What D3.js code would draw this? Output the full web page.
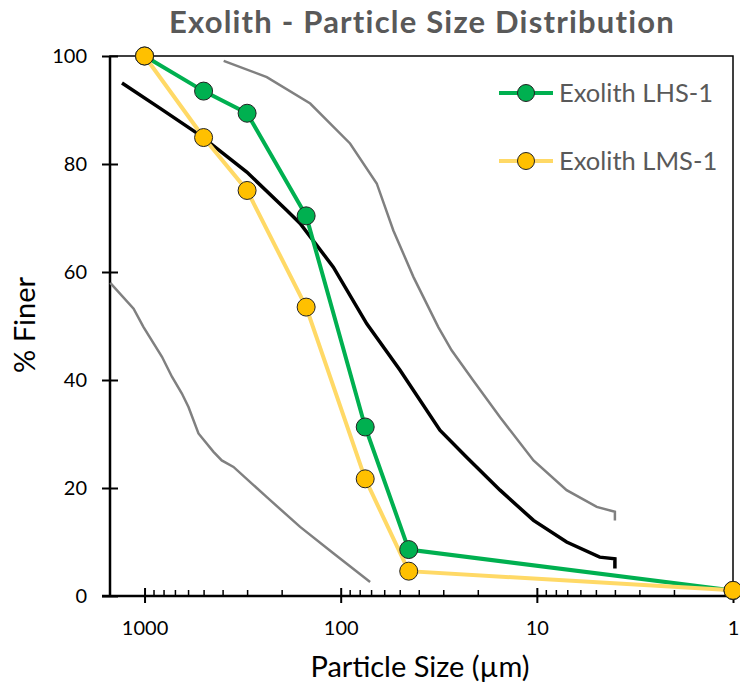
<!DOCTYPE html>
<html>
<head>
<meta charset="utf-8">
<script src="https://cdn.jsdelivr.net/npm/d3@7"></script>
<style>
  body { margin: 0; background: #fff; }
  svg text { font-family: Lato, "Open Sans", sans-serif; }
</style>
</head>
<body>
<div id="chart"></div>
<script>
// Sieve data for the two simulants (size in µm, % finer)
const sieveSizes = [1000, 500, 300, 150, 75, 45, 1];
const lhsFiner = [100, 93.5, 89.4, 70.4, 31.3, 8.6, 1.0];
const lmsFiner = [100, 84.9, 75.1, 53.5, 21.7, 4.6, 1.05];

// Measured reference curve (black) and its upper/lower envelope (gray)
const refSizes = [1303, 832, 520, 301, 188, 161, 109, 73.6, 49.8, 31.2, 22.8, 15.4, 10.4, 7.05, 4.78, 4.0, 4.0];
const refFiner = [95.0, 90.3, 85.3, 78.5, 71.4, 69.0, 60.9, 50.4, 41.8, 30.7, 25.7, 19.6, 14.0, 10.0, 7.2, 6.9, 5.1];

const upperSizes = [395, 238, 143, 89.6, 65.5, 53.9, 42.6, 31.8, 27.2, 21.1, 15.4, 10.4, 7.05, 4.95, 4.0, 4.0];
const upperFiner = [99.1, 96.1, 91.2, 83.8, 76.4, 67.7, 59.1, 49.8, 45.5, 39.9, 33.1, 25.1, 19.6, 16.5, 15.6, 14.0];

const lowerSizes = [1496, 1137, 1012, 815, 725, 645, 597, 531, 445, 404, 352, 238, 161, 109, 70.8];
const lowerFiner = [58.0, 53.2, 49.8, 44.3, 40.6, 37.5, 35.0, 30.1, 26.7, 25.1, 23.9, 18.3, 12.8, 7.9, 2.6];

const xMajorTicks = [1000, 100, 10, 1];
const xMinorTicks = [900, 800, 700, 600, 500, 400, 300, 200,
                     90, 80, 70, 60, 50, 40, 30, 20,
                     9, 8, 7, 6, 5, 4, 3, 2];
const yTicks = [0, 20, 40, 60, 80, 100];

const seriesNames = ["Exolith LHS-1", "Exolith LMS-1"];

const W = 740, H = 687;
const margin = { top: 56, right: 7, bottom: 91, left: 110 };
const width = W - margin.left - margin.right;
const height = H - margin.top - margin.bottom;

const svg = d3.select("#chart").append("svg")
    .attr("width", W)
    .attr("height", H);

const g = svg.append("g").attr("transform", `translate(${margin.left},${margin.top})`);

const x = d3.scaleLog().domain([1500, 1]).range([0, width]);
const y = d3.scaleLinear().domain([0, 100]).range([height, 0]);

// plot frame (top and right edges are thinner than the axes)
g.append("rect")
    .attr("width", width)
    .attr("height", height)
    .attr("fill", "none")
    .attr("stroke", "#000")
    .attr("stroke-width", 1.5);

// minor x ticks (inside only)
g.append("g")
    .attr("transform", `translate(0,${height})`)
    .call(d3.axisBottom(x).tickValues(xMinorTicks).tickSize(-6).tickFormat(""))
    .call(a => a.select(".domain").remove())
    .selectAll("line").attr("stroke-width", 1.5);

// major x axis
const xAxis = g.append("g")
    .attr("transform", `translate(0,${height})`)
    .call(d3.axisBottom(x).tickValues(xMajorTicks).tickSize(6).tickFormat(d3.format("d")));
xAxis.select(".domain").remove();
xAxis.selectAll(".tick line").attr("y1", -8).attr("y2", 7).attr("stroke-width", 2);
xAxis.selectAll(".tick text")
    .attr("y", 39)
    .attr("dy", 0)
    .attr("font-size", 20)
    .attr("fill", "#000");
g.append("line")
    .attr("x1", -8).attr("x2", width)
    .attr("y1", height).attr("y2", height)
    .attr("stroke", "#000").attr("stroke-width", 2.5);

// y axis
const yAxis = g.append("g")
    .call(d3.axisLeft(y).tickValues(yTicks).tickSize(8));
yAxis.select(".domain").remove();
yAxis.selectAll(".tick line").attr("x2", 8).attr("x1", -8).attr("stroke-width", 2);
yAxis.selectAll(".tick text")
    .attr("x", -23)
    .attr("font-size", 20)
    .attr("fill", "#000");
g.append("line")
    .attr("x1", 0).attr("x2", 0)
    .attr("y1", 0).attr("y2", height)
    .attr("stroke", "#000").attr("stroke-width", 2.5);

const line = d3.line()
    .x(d => x(d[0]))
    .y(d => y(d[1]));

const zip = (a, b) => a.map((v, i) => [v, b[i]]);

// envelope + reference curve
[[lowerSizes, lowerFiner], [upperSizes, upperFiner]].forEach(([s, f]) => {
    g.append("path")
        .datum(zip(s, f))
        .attr("d", line)
        .attr("fill", "none")
        .attr("stroke", "#808080")
        .attr("stroke-width", 2.5);
});
g.append("path")
    .datum(zip(refSizes, refFiner))
    .attr("d", line)
    .attr("fill", "none")
    .attr("stroke", "#000")
    .attr("stroke-width", 3.5);

// sieve series
const series = [
    { name: seriesNames[0], data: zip(sieveSizes, lhsFiner), line: "#00B050", fill: "#00B050" },
    { name: seriesNames[1], data: zip(sieveSizes, lmsFiner), line: "#FFD966", fill: "#FFC000" }
];

series.forEach(s => {
    g.append("path")
        .datum(s.data)
        .attr("d", line)
        .attr("fill", "none")
        .attr("stroke", s.line)
        .attr("stroke-width", 4);
});
series.forEach(s => {
    g.append("g").selectAll("circle")
        .data(s.data)
        .join("circle")
        .attr("cx", d => x(d[0]))
        .attr("cy", d => y(d[1]))
        .attr("r", 9)
        .attr("fill", s.fill)
        .attr("stroke", "#222")
        .attr("stroke-width", 1);
});

// legend
const legend = svg.append("g").attr("transform", "translate(499,93)");
series.forEach((s, i) => {
    const row = legend.append("g").attr("transform", `translate(0,${i * 68})`);
    row.append("line")
        .attr("x1", 0).attr("x2", 54)
        .attr("stroke", s.line).attr("stroke-width", 4);
    row.append("circle")
        .attr("cx", 27).attr("r", 8.5)
        .attr("fill", s.fill).attr("stroke", "#222").attr("stroke-width", 1);
    row.append("text")
        .attr("x", 60).attr("y", 9)
        .attr("font-size", 25.5)
        .attr("fill", "#595959")
        .text(s.name);
});

// title and axis labels
svg.append("text")
    .attr("x", 422).attr("y", 33)
    .attr("text-anchor", "middle")
    .attr("font-size", 31)
    .attr("letter-spacing", 1.2)
    .attr("font-weight", "bold")
    .attr("fill", "#595959")
    .text("Exolith - Particle Size Distribution");

svg.append("text")
    .attr("x", 420).attr("y", 677)
    .attr("text-anchor", "middle")
    .attr("font-size", 29)
    .attr("fill", "#000")
    .text("Particle Size (µm)");

svg.append("text")
    .attr("transform", "translate(35,325) rotate(-90)")
    .attr("text-anchor", "middle")
    .attr("font-size", 29)
    .attr("fill", "#000")
    .text("% Finer");
</script>
</body>
</html>
